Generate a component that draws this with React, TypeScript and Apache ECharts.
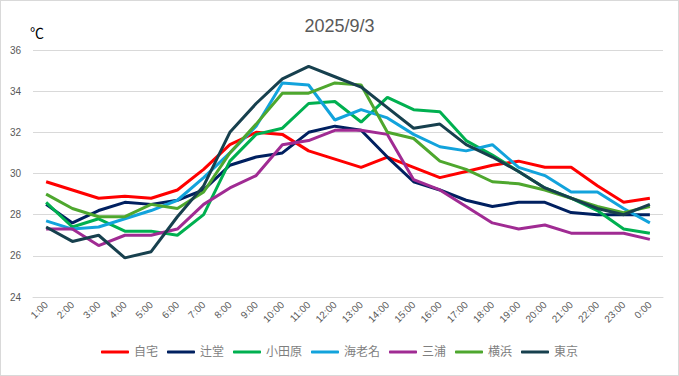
import React, { useEffect, useRef } from "react";
import * as echarts from "echarts";

const hours = ["1:00","2:00","3:00","4:00","5:00","6:00","7:00","8:00","9:00","10:00","11:00","12:00","13:00","14:00","15:00","16:00","17:00","18:00","19:00","20:00","21:00","22:00","23:00","0:00"];

const jitaku = [29.6,29.2,28.8,28.9,28.8,29.2,30.2,31.4,32.0,31.9,31.1,30.7,30.3,30.8,30.3,29.8,30.1,30.4,30.6,30.3,30.3,29.4,28.6,28.8];
const tsujido = [28.5,27.6,28.2,28.6,28.5,28.7,29.2,30.4,30.8,31.0,32.0,32.3,32.1,30.8,29.6,29.2,28.7,28.4,28.6,28.6,28.1,28.0,28.0,28.0];
const odawara = [28.6,27.4,27.8,27.2,27.2,27.0,28.0,30.6,31.9,32.2,33.4,33.5,32.5,33.7,33.1,33.0,31.6,30.9,30.1,29.3,28.8,28.2,27.3,27.1];
const ebina = [27.7,27.3,27.4,27.8,28.2,28.7,29.8,31.0,32.3,34.4,34.3,32.6,33.1,32.7,31.9,31.3,31.1,31.4,30.3,29.9,29.1,29.1,28.3,27.6];
const miura = [27.3,27.3,26.5,27.0,27.0,27.3,28.5,29.3,29.9,31.4,31.6,32.1,32.1,31.9,29.7,29.2,28.4,27.6,27.3,27.5,27.1,27.1,27.1,26.8];
const yokohama = [29.0,28.3,27.9,27.9,28.5,28.3,29.1,31.0,32.4,33.9,33.9,34.4,34.3,32.0,31.7,30.6,30.2,29.6,29.5,29.2,28.8,28.4,28.1,28.4];
const tokyo = [27.4,26.7,27.0,25.9,26.2,27.9,29.4,32.0,33.4,34.6,35.2,34.7,34.2,33.2,32.2,32.4,31.4,30.8,30.1,29.3,28.8,28.3,28.0,28.5];

const yTicks = [24, 26, 28, 30, 32, 34, 36];

const seriesDefs = [
  { name: "自宅", data: jitaku, color: "#FF0000" },
  { name: "辻堂", data: tsujido, color: "#002060" },
  { name: "小田原", data: odawara, color: "#00B050" },
  { name: "海老名", data: ebina, color: "#12A3DC" },
  { name: "三浦", data: miura, color: "#A02B93" },
  { name: "横浜", data: yokohama, color: "#4EA72E" },
  { name: "東京", data: tokyo, color: "#17404E" },
];

const FONT = "'Liberation Sans', Arial, 'Noto Sans CJK JP', sans-serif";

export default function App() {
  const ref = useRef<HTMLDivElement>(null);
  useEffect(() => {
    document.body.style.margin = "0";
    const chart = echarts.init(ref.current!, null, { renderer: "svg" });
    chart.setOption({
      animation: false,
      backgroundColor: "#ffffff",
      textStyle: { fontFamily: FONT },
      title: {
        text: "2025/9/3",
        left: "center",
        top: 11,
        textStyle: { fontSize: 18, fontWeight: "normal", color: "#595959", fontFamily: FONT },
      },
      graphic: [
        {
          type: "text",
          left: 29,
          top: 25,
          style: { text: "℃", fontSize: 14, fill: "#000000", fontFamily: FONT },
        },
      ],
      legend: {
        bottom: 12,
        left: "center",
        itemWidth: 28,
        itemHeight: 3,
        itemGap: 9,
        icon: "roundRect",
        textStyle: { fontSize: 12, color: "#7f7f7f", fontFamily: FONT },
        data: seriesDefs.map((s) => s.name),
      },
      grid: { left: 32, right: 15, top: 49, bottom: 78 },
      xAxis: {
        type: "category",
        data: hours,
        boundaryGap: true,
        axisLine: { show: true, lineStyle: { color: "#d9d9d9", width: 1 } },
        axisTick: { show: false },
        axisLabel: { rotate: 45, fontSize: 10, color: "#595959", margin: 6, interval: 0 },
      },
      yAxis: {
        type: "value",
        min: yTicks[0],
        max: yTicks[yTicks.length - 1],
        interval: 2,
        axisLine: { show: false },
        axisTick: { show: false },
        axisLabel: { fontSize: 10, color: "#595959", margin: 12 },
        splitLine: { lineStyle: { color: "#d9d9d9", width: 1 } },
      },
      series: seriesDefs.map((s) => ({
        name: s.name,
        type: "line",
        data: s.data,
        symbol: "none",
        lineStyle: { width: 3, color: s.color },
        itemStyle: { color: s.color },
      })),
    });
    return () => chart.dispose();
  }, []);
  return (
    <div
      ref={ref}
      style={{ width: 679, height: 376, boxSizing: "border-box", border: "1px solid #d9d9d9" }}
    />
  );
}
